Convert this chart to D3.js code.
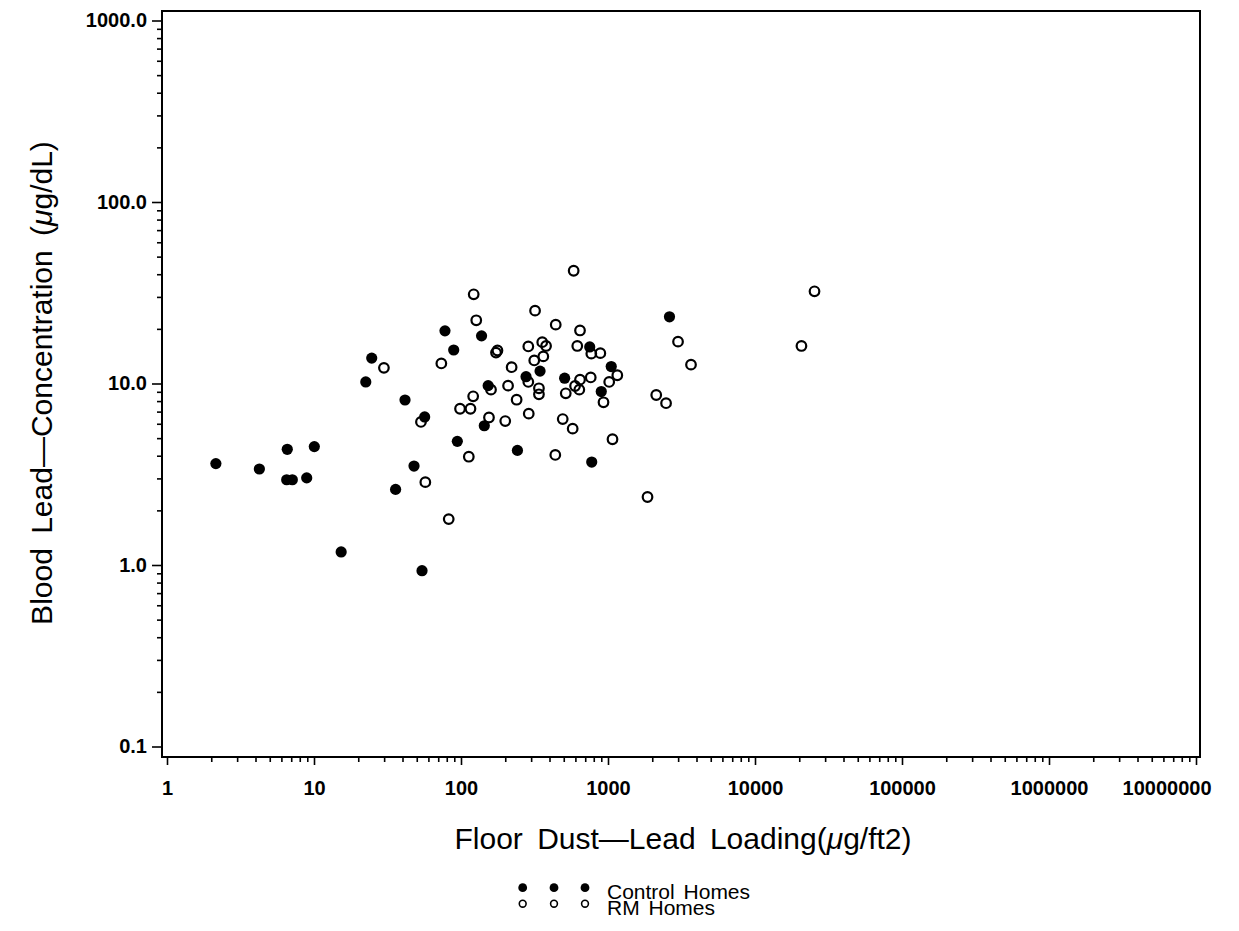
<!DOCTYPE html>
<html>
<head>
<meta charset="utf-8">
<script src="https://cdn.jsdelivr.net/npm/d3@7"></script>
<style>
  body { margin: 0; background: #fff; }
  text { font-family: "Liberation Sans", Arial, sans-serif; fill: #000; }
</style>
</head>
<body>
<script>
//Width and height
var w = 1239;
var h = 931;

//Control homes (filled)
var controlDust  = [2.15, 4.25, 6.58, 10.05, 6.52, 7.12, 8.92, 15.3, 22.5, 24.7,
                    35.9, 41.6, 47.9, 54.3, 56.6, 77.8, 89.2, 94.4, 138, 144,
                    153, 242, 277, 345, 507, 751, 775, 900, 1052, 2620];
var controlBlood = [3.62, 3.38, 4.34, 4.49, 2.95, 2.95, 3.02, 1.18, 10.2, 13.8,
                    2.61, 8.11, 3.51, 0.93, 6.54, 19.5, 15.3, 4.80, 18.3, 5.85,
                    9.73, 4.28, 10.9, 11.7, 10.7, 15.9, 3.69, 9.03, 12.4, 23.3];

//RM homes (open)
var rmDust  = [29.9, 53.4, 57.2, 73.5, 82.5, 98.5, 116, 113, 121, 122,
               127, 155, 160, 177, 173, 200, 209, 221, 239, 287,
               287, 289, 315, 319, 339, 339, 357, 379, 363, 438,
               441, 492, 516, 575, 584, 597, 638, 618, 645, 645,
               763, 770, 887, 932, 1019, 1157, 1073, 1857, 2129, 2483,
               2995, 3670, 20700, 25400];
var rmBlood = [12.2, 6.14, 2.86, 12.9, 1.79, 7.26, 7.26, 3.95, 8.50, 31.0,
               22.3, 6.50, 9.25, 15.2, 14.8, 6.21, 9.73, 12.3, 8.14, 16.0,
               10.2, 6.82, 13.4, 25.2, 9.41, 8.72, 16.9, 16.1, 14.1, 4.04,
               21.1, 6.37, 8.83, 5.64, 41.8, 9.69, 9.25, 16.1, 19.6, 10.5,
               10.8, 14.6, 14.7, 7.88, 10.2, 11.1, 4.93, 2.37, 8.64, 7.79,
               17.0, 12.7, 16.1, 32.2];

//tick labels
var xTicks = [1, 10, 100, 1000, 10000, 100000, 1000000, 10000000];
var yTicks = [0.1, 1, 10, 100, 1000];
var legendNames = ["Control Homes", "RM Homes"];

//frame of the plot area (window.top is taken, so prefixed names)
var pLeft = 162, pRight = 1200, pTop = 11, pBottom = 757;

var x = d3.scaleLog().domain([1, 1e7]).range([167, 1196]);
var y = d3.scaleLog().domain([0.1, 1000]).range([746.5, 20.5]);

//minor ticks 2..9 in every decade
function minors(ticks) {
  var out = [];
  ticks.slice(0, -1).forEach(function(t) {
    for (var k = 2; k <= 9; k++) out.push(t * k);
  });
  return out;
}

var svg = d3.select("body")
            .append("svg")
            .attr("width", w)
            .attr("height", h);

//x axis
svg.append("g")
   .attr("transform", "translate(0," + pBottom + ")")
   .call(d3.axisBottom(x).tickValues(minors(xTicks)).tickSize(5).tickFormat(""))
   .call(function(g) { g.select(".domain").remove(); });

var xAxis = svg.append("g")
   .attr("class", "tick-lab")
   .attr("transform", "translate(0," + pBottom + ")")
   .call(d3.axisBottom(x).tickValues(xTicks).tickSize(8).tickPadding(16)
           .tickFormat(d3.format("d")))
   .call(function(g) { g.select(".domain").remove(); });

//last label is pulled in so it stays on the page
xAxis.selectAll(".tick text")
     .filter(function(d) { return d == 1e7; })
     .attr("text-anchor", "end")
     .attr("x", 15);

//y axis
svg.append("g")
   .attr("transform", "translate(" + pLeft + ",0)")
   .call(d3.axisLeft(y).tickValues(minors(yTicks)).tickSize(5).tickFormat(""))
   .call(function(g) { g.select(".domain").remove(); });

svg.append("g")
   .attr("class", "tick-lab")
   .attr("transform", "translate(" + pLeft + ",0)")
   .call(d3.axisLeft(y).tickValues(yTicks).tickSize(10).tickPadding(5)
           .tickFormat(d3.format(".1f")))
   .call(function(g) { g.select(".domain").remove(); });

svg.selectAll(".tick line").attr("stroke", "#000").attr("stroke-width", 1.6);
svg.selectAll(".tick-lab text")
   .attr("fill", "#000")
   .style("font-family", "'Liberation Sans', Arial, sans-serif")
   .style("font-size", "20px")
   .style("font-weight", "bold");

//frame
svg.append("rect")
   .attr("x", pLeft)
   .attr("y", pTop)
   .attr("width", pRight - pLeft)
   .attr("height", pBottom - pTop)
   .attr("fill", "none")
   .attr("stroke", "#000")
   .attr("stroke-width", 2);

//points
var rm = rmDust.map(function(d, i) { return [d, rmBlood[i]]; });
var ctl = controlDust.map(function(d, i) { return [d, controlBlood[i]]; });

svg.append("g").selectAll("circle")
   .data(rm)
   .enter()
   .append("circle")
   .attr("cx", function(d) { return x(d[0]); })
   .attr("cy", function(d) { return y(d[1]); })
   .attr("r", 4.8)
   .attr("fill", "none")
   .attr("stroke", "#000")
   .attr("stroke-width", 2.2);

svg.append("g").selectAll("circle")
   .data(ctl)
   .enter()
   .append("circle")
   .attr("cx", function(d) { return x(d[0]); })
   .attr("cy", function(d) { return y(d[1]); })
   .attr("r", 5.6)
   .attr("fill", "#000");

//axis titles
svg.append("text")
   .attr("x", 683)
   .attr("y", 849)
   .attr("text-anchor", "middle")
   .style("font-size", "30px")
   .style("word-spacing", "6px")
   .html("Floor Dust\u2014Lead Loading(<tspan font-style='italic'>\u03bc</tspan>g/ft2)");

svg.append("text")
   .attr("transform", "translate(52,383) rotate(-90)")
   .attr("text-anchor", "middle")
   .style("font-size", "30px")
   .style("word-spacing", "6px")
   .html("Blood Lead\u2014Concentration (<tspan font-style='italic'>\u03bc</tspan>g/dL)");

//legend
var lg = svg.append("g");
var dotX = [522.7, 554, 585];
legendNames.forEach(function(name, i) {
  var cy = 887.7 + i * 16;
  lg.selectAll(".dot" + i)
    .data(dotX)
    .enter()
    .append("circle")
    .attr("cx", function(d) { return d; })
    .attr("cy", cy)
    .attr("r", i == 0 ? 4.4 : 3.4)
    .attr("fill", i == 0 ? "#000" : "none")
    .attr("stroke", "#000")
    .attr("stroke-width", i == 0 ? 0 : 1.6);
  lg.append("text")
    .attr("x", 607)
    .attr("y", 899 + i * 16)
    .style("font-size", "21px")
    .style("word-spacing", "3px")
    .text(name);
});
</script>
</body>
</html>
